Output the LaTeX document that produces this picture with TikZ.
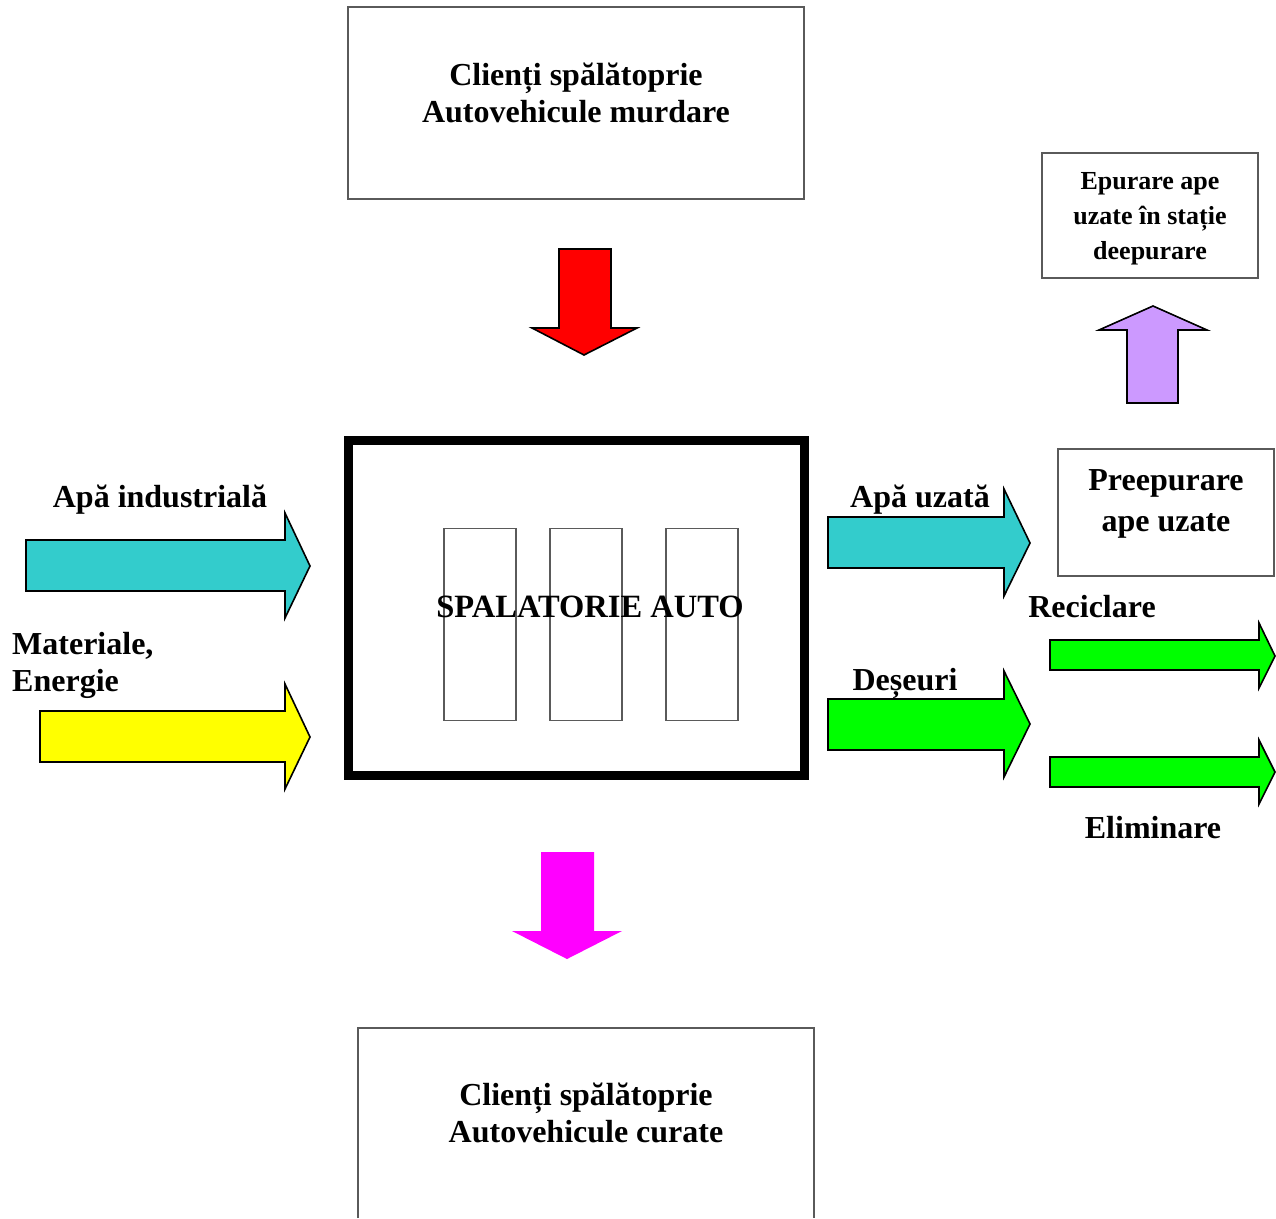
\documentclass[tikz,border=0pt]{standalone}
\usepackage{fontspec}
\setmainfont{Liberation Serif}
\definecolor{boxgray}{RGB}{90,90,90}
\definecolor{acyan}{RGB}{51,204,204}
\definecolor{ayellow}{RGB}{255,255,0}
\definecolor{agreen}{RGB}{0,255,0}
\definecolor{ared}{RGB}{255,0,0}
\definecolor{apurple}{RGB}{204,153,255}
\definecolor{amagenta}{RGB}{255,0,255}
\begin{document}
\begin{tikzpicture}[x=1pt,y=-1pt,
  font=\bfseries\fontsize{32}{37}\selectfont,
  box/.style={draw=boxgray, line width=1.3pt, inner sep=0pt},
  txt/.style={inner sep=0pt, align=center},
  blk/.style={draw=black, line width=1.6pt, line join=miter}]
\useasboundingbox (0,0) rectangle (1276,1218);

% --- boxes ---
\node[box, minimum width=456, minimum height=192] (topbox) at (576,103) {};
\node[txt] (toptext) at (576,93) {Clienți spălătoprie\\Autovehicule murdare};

\node[box, minimum width=216, minimum height=125] (epbox) at (1150,215.5) {};
\node[txt, font=\bfseries\fontsize{26}{35}\selectfont] (eptext) at (1150,219) {Epurare ape\\uzate în stație\\deepurare};

\node[box, minimum width=216, minimum height=127] (prebox) at (1166,512.5) {};
\node[txt, font=\bfseries\fontsize{32}{41}\selectfont] (pretext) at (1166,504) {Preepurare\\ape uzate};

\node[draw=black, line width=9pt, inner sep=0pt, minimum width=456, minimum height=335.5] (main) at (576,607.75) {};
\node[box, minimum width=72, minimum height=192] (r1) at (480,624.5) {};
\node[box, minimum width=72, minimum height=192] (r2) at (586,624.5) {};
\node[box, minimum width=72, minimum height=192] (r3) at (702,624.5) {};
\node[txt, font=\bfseries\fontsize{32.5}{37}\selectfont] (maintext) at (590,607) {SPALATORIE AUTO};

\coordinate (bbl) at (358,1218);
\coordinate (btl) at (358,1028);
\coordinate (btr) at (814,1028);
\coordinate (bbr) at (814,1218);
\draw[boxgray, line width=1.3pt] (bbl) -- (btl) -- (btr) -- (bbr);
\node[txt] (bottext) at (586,1113) {Clienți spălătoprie\\Autovehicule curate};

% --- block arrows ---
% red down
\draw[blk, fill=ared] (559,249) -- (611,249) -- (611,328) -- (637,328) -- (584,355) -- (532,328) -- (559,328) -- cycle;
% purple up
\draw[blk, fill=apurple] (1127,403) -- (1178,403) -- (1178,330) -- (1207,330) -- (1153,306) -- (1099,330) -- (1127,330) -- cycle;
% magenta down
\fill[amagenta] (541,852) -- (594,852) -- (594,931) -- (622,931) -- (567,959) -- (512,931) -- (541,931) -- cycle;
% cyan in
\draw[blk, fill=acyan] (26,540) -- (285,540) -- (285,513) -- (310,566) -- (285,618) -- (285,591) -- (26,591) -- cycle;
% yellow in
\draw[blk, fill=ayellow] (40,711) -- (285,711) -- (285,684) -- (310,737) -- (285,789) -- (285,762) -- (40,762) -- cycle;
% cyan out
\draw[blk, fill=acyan] (828,517) -- (1004,517) -- (1004,489) -- (1030,543) -- (1004,596) -- (1004,568) -- (828,568) -- cycle;
% green out
\draw[blk, fill=agreen] (828,699) -- (1004,699) -- (1004,671) -- (1030,724) -- (1004,777) -- (1004,750) -- (828,750) -- cycle;
% green small 1
\draw[blk, fill=agreen] (1050,640) -- (1259,640) -- (1259,623) -- (1275,656) -- (1259,688) -- (1259,670) -- (1050,670) -- cycle;
% green small 2
\draw[blk, fill=agreen] (1050,757) -- (1259,757) -- (1259,740) -- (1275,772) -- (1259,804) -- (1259,787) -- (1050,787) -- cycle;

% --- labels ---
\node[txt] (lapa) at (160,500) {Apă industrială};
\node[txt, align=left, anchor=west] (lmat) at (12,665.5) {Materiale,\\Energie};
\node[txt] (luzata) at (920,500) {Apă uzată};
\node[txt] (ldes) at (905,683) {Deșeuri};
\node[txt] (lrec) at (1092,607) {Reciclare};
\node[txt] (lelim) at (1153,828) {Eliminare};
\end{tikzpicture}
\end{document}
